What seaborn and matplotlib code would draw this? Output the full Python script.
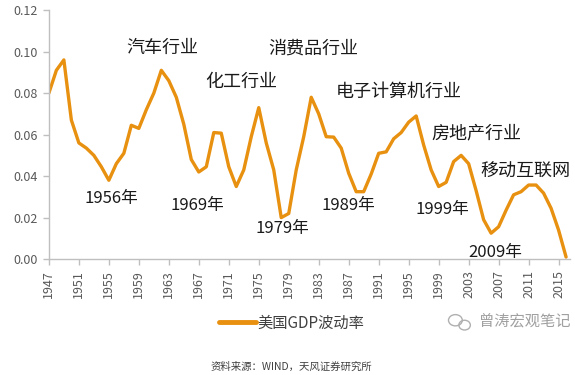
import numpy as np
import pandas as pd
import seaborn as sns
import matplotlib.pyplot as plt
from matplotlib.patches import Ellipse

# US GDP volatility
years = list(range(1947, 2017))
volatility = [0.080, 0.091, 0.096, 0.067, 0.056, 0.0535, 0.050, 0.0445, 0.038, 0.046,
              0.051, 0.0645, 0.063, 0.072, 0.080, 0.091, 0.086, 0.078, 0.065, 0.048,
              0.042, 0.0445, 0.061, 0.0607, 0.0445, 0.035, 0.043, 0.059, 0.073, 0.056,
              0.043, 0.020, 0.022, 0.043, 0.059, 0.078, 0.070, 0.059, 0.0588, 0.0535,
              0.0414, 0.0325, 0.0325, 0.041, 0.051, 0.0517, 0.058, 0.061, 0.066, 0.069,
              0.055, 0.043, 0.035, 0.037, 0.047, 0.050, 0.046, 0.033, 0.019, 0.0125,
              0.0156, 0.0236, 0.031, 0.0325, 0.0357, 0.0357, 0.0318, 0.0245, 0.014, 0.001]

xtick_years = list(range(1947, 2016, 4))
ytick_values = [0.00, 0.02, 0.04, 0.06, 0.08, 0.10, 0.12]

industry_labels = ['汽车行业', '化工行业', '消费品行业', '电子计算机行业', '房地产行业', '移动互联网']
industry_pos = [(1962.2, 0.1017), (1972.6, 0.0853), (1982.3, 0.1017),
                (1993.7, 0.0805), (2004.1, 0.0607), (2010.6, 0.0419)]
trough_labels = ['1956年', '1969年', '1979年', '1989年', '1999年', '2009年']
trough_pos = [(1955.3, 0.0294), (1966.8, 0.026), (1978.1, 0.0149),
              (1986.9, 0.026), (1999.5, 0.0241), (2006.6, 0.0034)]

series_name = '美国GDP波动率'

df = pd.DataFrame({'year': years, series_name: volatility})

sns.set_theme(style='white')
plt.rcParams['font.family'] = ['Noto Sans CJK SC', 'DejaVu Sans']

fig = plt.figure(figsize=(5.75, 3.75), dpi=100)
ax = fig.add_axes([0.085, 0.309, 0.906, 0.664])

orange = '#E8900F'
sns.lineplot(data=df, x='year', y=series_name, ax=ax, color=orange, linewidth=2.4,
             label=series_name, legend=False)

ax.set_xlim(1947, 2016.5)
ax.set_ylim(0, 0.12)
ax.set_xticks(xtick_years)
ax.set_xticklabels([str(y) for y in xtick_years], rotation=90, fontsize=9, color='#595959')
ax.set_yticks(ytick_values)
ax.set_yticklabels(['%.2f' % v for v in ytick_values], fontsize=9, color='#595959')
ax.set_xlabel('')
ax.set_ylabel('')

for side in ['top', 'right']:
    ax.spines[side].set_visible(False)
for side in ['left', 'bottom']:
    ax.spines[side].set_color('#BFBFBF')
    ax.spines[side].set_linewidth(1)
ax.tick_params(axis='both', which='major', length=4, width=1, color='#BFBFBF',
               direction='out', bottom=True, left=True, pad=4)

for txt, (x, y) in zip(industry_labels, industry_pos):
    ax.text(x, y, txt, ha='center', va='center', fontsize=13, color='#1a1a1a')
for txt, (x, y) in zip(trough_labels, trough_pos):
    ax.text(x, y, txt, ha='center', va='center', fontsize=12, color='#1a1a1a')

# legend below the plot
handles, labels = ax.get_legend_handles_labels()
leg = fig.legend(handles, labels, loc='center', bbox_to_anchor=(0.507, 0.139), frameon=False,
                 fontsize=11, handlelength=2.4, handletextpad=0.1, labelcolor='#404040')
for line in leg.get_lines():
    line.set_linewidth(3.5)

# watermark with a small chat icon
fig.text(0.913, 0.141, '曾涛宏观笔记', ha='center', va='center', fontsize=11, color='#a0a0a0')
fig.add_artist(Ellipse((0.792, 0.146), 0.024, 0.03, transform=fig.transFigure,
                       fill=False, edgecolor='#b0b0b0', linewidth=1))
fig.add_artist(Ellipse((0.808, 0.133), 0.02, 0.026, transform=fig.transFigure,
                       fill=False, edgecolor='#b0b0b0', linewidth=1))

fig.text(0.507, 0.022, '资料来源：WIND，天风证券研究所', ha='center', va='center',
         fontsize=7.5, color='#404040')

fig.savefig('out.png', dpi=100, facecolor='white')
